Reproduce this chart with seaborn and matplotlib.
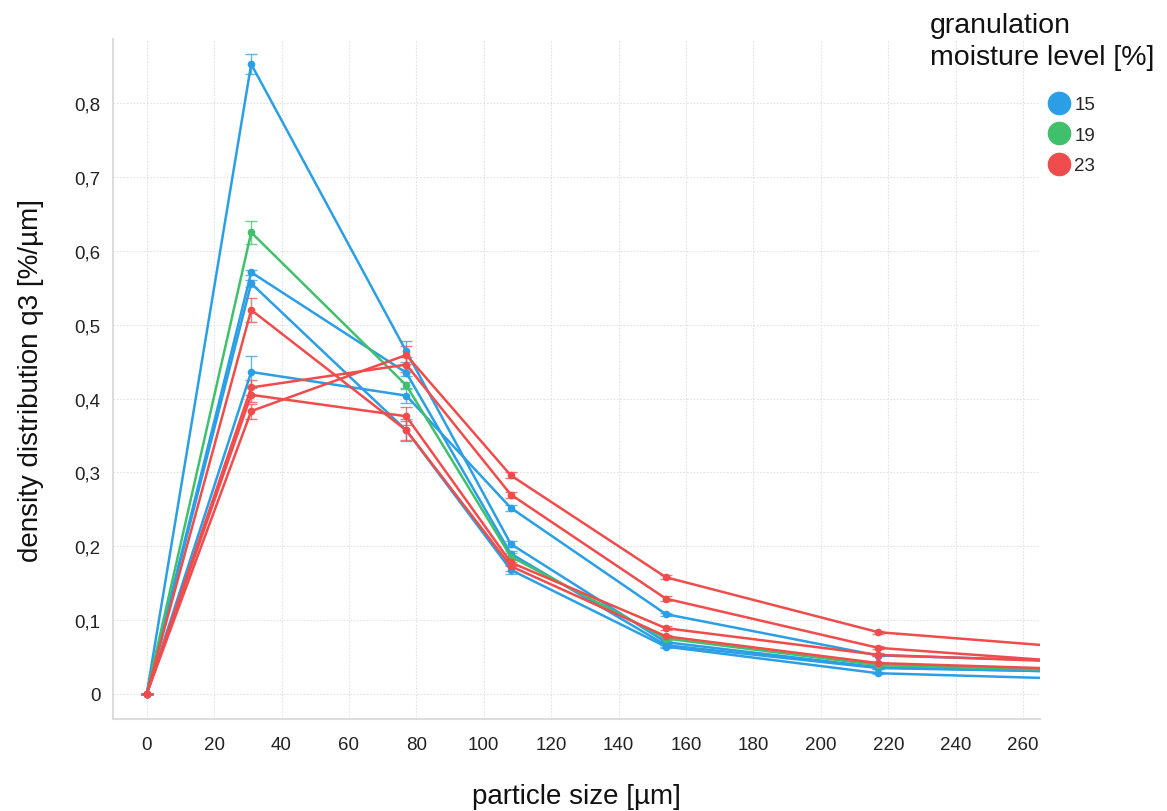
import numpy as np
import pandas as pd
import seaborn as sns
import matplotlib
matplotlib.use("Agg")
import matplotlib.pyplot as plt
from matplotlib.lines import Line2D
from matplotlib.ticker import FuncFormatter, MultipleLocator

# Sieve classes (particle size, µm)
sizes = [0, 31, 77, 108, 154, 217, 306]

# Density distribution q3 [%/µm] for each granulation run
run_labels = ["15-a", "15-b", "15-c", "15-d", "19-a", "23-a", "23-b", "23-c", "23-d"]
run_moisture = [15, 15, 15, 15, 19, 23, 23, 23, 23]

q3_15a = [0, 0.853, 0.464, 0.203, 0.070, 0.036, 0.0267]
q3_15b = [0, 0.571, 0.435, 0.190, 0.066, 0.035, 0.0276]
q3_15c = [0, 0.556, 0.357, 0.168, 0.064, 0.028, 0.0163]
q3_15d = [0, 0.436, 0.404, 0.252, 0.108, 0.052, 0.0409]
q3_19a = [0, 0.625, 0.418, 0.186, 0.075, 0.039, 0.0279]
q3_23a = [0, 0.520, 0.357, 0.173, 0.078, 0.0417, 0.0293]
q3_23b = [0, 0.415, 0.446, 0.270, 0.129, 0.0624, 0.0329]
q3_23c = [0, 0.405, 0.376, 0.178, 0.089, 0.0529, 0.0383]
q3_23d = [0, 0.383, 0.459, 0.296, 0.158, 0.0836, 0.0517]

# Standard deviations of the repeated measurements
sd_15a = [0, 0.014, 0.014, 0.004, 0.002, 0.002, 0.001]
sd_15b = [0, 0.003, 0.005, 0.004, 0.002, 0.001, 0.001]
sd_15c = [0, 0.005, 0.015, 0.006, 0.002, 0.001, 0.001]
sd_15d = [0, 0.022, 0.010, 0.004, 0.002, 0.001, 0.001]
sd_19a = [0, 0.016, 0.005, 0.005, 0.002, 0.002, 0.001]
sd_23a = [0, 0.016, 0.013, 0.006, 0.002, 0.001, 0.001]
sd_23b = [0, 0.010, 0.010, 0.004, 0.003, 0.002, 0.001]
sd_23c = [0, 0.010, 0.012, 0.005, 0.003, 0.002, 0.001]
sd_23d = [0, 0.010, 0.012, 0.004, 0.003, 0.002, 0.001]

q3_runs = [q3_15a, q3_15b, q3_15c, q3_15d, q3_19a, q3_23a, q3_23b, q3_23c, q3_23d]
sd_runs = [sd_15a, sd_15b, sd_15c, sd_15d, sd_19a, sd_23a, sd_23b, sd_23c, sd_23d]

moisture_levels = [15, 19, 23]
palette = {15: "#2b9fe6", 19: "#41c06b", 23: "#f04c4c"}

rows = []
for lab, m, vals, sds in zip(run_labels, run_moisture, q3_runs, sd_runs):
    for s, v, e in zip(sizes, vals, sds):
        rows.append({"run": lab, "moisture": m, "size": s, "q3": v, "sd": e})
df = pd.DataFrame(rows)

sns.set_theme(style="white")
plt.rcParams["font.family"] = ["Liberation Sans", "DejaVu Sans"]

fig = plt.figure(figsize=(11.67, 8.12), dpi=100)
ax = fig.add_axes([113 / 1167, 1 - 720 / 812, (1040 - 113) / 1167, (720 - 40) / 812])

sns.lineplot(data=df, x="size", y="q3", hue="moisture", units="run",
             estimator=None, sort=False, palette=palette, marker="o",
             markersize=5.5, markeredgewidth=0, linewidth=1.8,
             legend=False, ax=ax, zorder=3)

for lab in run_labels:
    sub = df[df["run"] == lab]
    col = palette[int(sub["moisture"].iloc[0])]
    ax.errorbar(sub["size"], sub["q3"], yerr=sub["sd"], fmt="none",
                ecolor=col, elinewidth=1.0, capsize=4, capthick=1.0,
                alpha=0.75, zorder=2)

ax.set_xlim(-10, 265)
ax.set_ylim(-0.034, 0.887)
ax.xaxis.set_major_locator(MultipleLocator(20))
ax.yaxis.set_major_locator(MultipleLocator(0.1))
ax.yaxis.set_major_formatter(FuncFormatter(
    lambda v, p: "0" if abs(v) < 1e-9 else f"{v:.1f}".replace(".", ",")))

ax.grid(True, color="#e2e2e2", linestyle=(0, (1.5, 1.5)), linewidth=0.8)
for side in ["top", "right"]:
    ax.spines[side].set_visible(False)
for side in ["left", "bottom"]:
    ax.spines[side].set_color("#dcdcdc")
    ax.spines[side].set_linewidth(1.5)
ax.tick_params(axis="both", labelsize=13.5, colors="#222222", length=0, pad=9)
ax.tick_params(axis="x", length=4, color="#dcdcdc", width=1, pad=8)

ax.set_xlabel("particle size [µm]", fontsize=20, labelpad=22, color="#111111")
ax.set_ylabel("density distribution q3 [%/µm]", fontsize=20, labelpad=22, color="#111111")

fig.text(930 / 1167, 1 - 13 / 812, "granulation\nmoisture level [%]",
         fontsize=20.5, ha="left", va="top", linespacing=1.3, color="#111111")

handles = [Line2D([], [], linestyle="none", marker="o", markersize=16,
                  markerfacecolor=palette[m], markeredgecolor=palette[m])
           for m in moisture_levels]
fig.legend(handles, [str(m) for m in moisture_levels], loc="upper left",
           bbox_to_anchor=(1050 / 1167, 1 - 97 / 812), frameon=False,
           fontsize=13.5, handlelength=1.0, handletextpad=0.3,
           labelspacing=0.72, borderaxespad=0, borderpad=0)

fig.savefig("out.png", dpi=100)
